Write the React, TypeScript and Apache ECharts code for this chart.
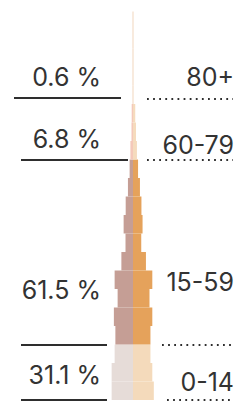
import React, { useEffect, useRef } from "react";
import * as echarts from "echarts";

// 5-year age bins, bottom to top
const ageBins = [
  "0-4", "5-9", "10-14", "15-19", "20-24", "25-29", "30-34", "35-39", "40-44", "45-49",
  "50-54", "55-59", "60-64", "65-69", "70-74", "75-79", "80-84", "85-89", "90-94", "95-99", "100+",
];
// share of population per bin (%), left half and right half
const leftValues = [5.7, 5.7, 4.9, 4.7, 5.1, 4.1, 4.9, 3.1, 2.0, 2.5, 1.95, 1.35, 0.9, 0.7, 0.4, 0.35, 0.13, 0.13, 0.13, 0.13, 0.13];
const rightValues = [5.55, 5.15, 4.65, 4.65, 5.15, 4.4, 5.15, 3.45, 2.2, 2.55, 2.25, 1.85, 1.35, 1.05, 0.8, 0.6, 0.13, 0.13, 0.13, 0.13, 0.13];
// group each bin belongs to
const binGroup = [0, 0, 0, 1, 1, 1, 1, 1, 1, 1, 1, 1, 1, 2, 2, 2, 3, 3, 3, 3, 3];

const groupLabels = ["0-14", "15-59", "60-79", "80+"];
const groupShares = ["31.1 %", "61.5 %", "6.8 %", "0.6 %"];

const leftColors = ["#e6dcd8", "#c59e95", "#f4c8ba", "#f1d5bb"];
const rightColors = ["#f4dabb", "#e5a25b", "#f5dbbd", "#f1d5bb"];

// layout of annotations (px)
const shareLabelY = [375, 290, 139, 76.5];
const groupLabelY = [382, 282, 145, 77];
const solidLines = [
  { y: 400, x1: 21, x2: 107 },
  { y: 345, x1: 21, x2: 107 },
  { y: 160, x1: 21, x2: 128 },
  { y: 98, x1: 14, x2: 121 },
];
const dottedLines = [
  { y: 400, x1: 167, x2: 233 },
  { y: 345, x1: 162, x2: 233 },
  { y: 160, x1: 147, x2: 233 },
  { y: 99, x1: 147, x2: 233 },
];

const FONT = "Inter";
const TEXT_COLOR = "#333333";

export default function App() {
  const ref = useRef<HTMLDivElement>(null);
  useEffect(() => {
    document.body.style.margin = "0";
    if (!ref.current) return;
    const chart = echarts.init(ref.current, undefined, { renderer: "svg" });

    const graphic: any[] = [];
    groupShares.forEach((t, i) => {
      graphic.push({
        type: "text",
        style: {
          text: t, x: 101, y: shareLabelY[i], fill: TEXT_COLOR,
          fontFamily: FONT, fontSize: 25, fontWeight: 400,
          align: "right", verticalAlign: "middle",
        },
      });
    });
    groupLabels.forEach((t, i) => {
      graphic.push({
        type: "text",
        style: {
          text: t, x: 234, y: groupLabelY[i], fill: TEXT_COLOR,
          fontFamily: FONT, fontSize: 25, fontWeight: 400,
          align: "right", verticalAlign: "middle",
        },
      });
    });
    solidLines.forEach((l) => {
      graphic.push({
        type: "line",
        shape: { x1: l.x1, y1: l.y, x2: l.x2, y2: l.y },
        style: { stroke: "#2e2e2e", lineWidth: 2 },
      });
    });
    dottedLines.forEach((l) => {
      graphic.push({
        type: "line",
        shape: { x1: l.x1, y1: l.y, x2: l.x2, y2: l.y },
        style: { stroke: "#2e2e2e", lineWidth: 1.8, lineDash: [1.8, 4.3] },
      });
    });

    chart.setOption({
      animation: false,
      grid: { left: 103, top: 11.5, width: 60, height: 388.5 },
      xAxis: { type: "value", min: -8, max: 8, show: false },
      yAxis: { type: "category", data: ageBins, show: false },
      series: [
        {
          type: "bar",
          barCategoryGap: "0%",
          barGap: "-100%",
          data: leftValues.map((v, i) => ({ value: -v, itemStyle: { color: leftColors[binGroup[i]] } })),
        },
        {
          type: "bar",
          barCategoryGap: "0%",
          barGap: "-100%",
          data: rightValues.map((v, i) => ({ value: v, itemStyle: { color: rightColors[binGroup[i]] } })),
        },
      ],
      graphic,
    });
    return () => chart.dispose();
  }, []);
  return <div ref={ref} style={{ width: 241, height: 402 }} />;
}
